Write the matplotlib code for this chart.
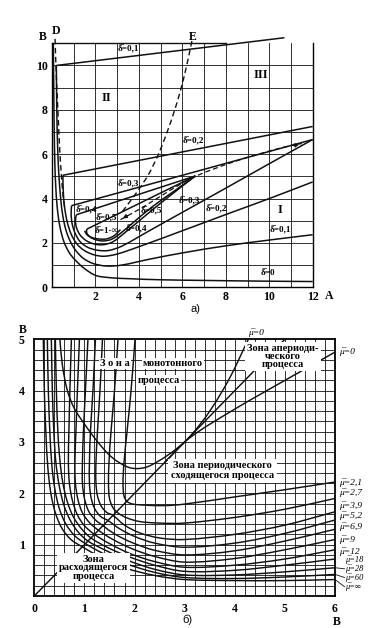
import numpy as np
import matplotlib
matplotlib.use("Agg")
import matplotlib.pyplot as plt
from matplotlib.path import Path
from matplotlib.patches import PathPatch

plt.rcParams["font.family"] = ["Liberation Serif", "DejaVu Serif"]
plt.rcParams["mathtext.fontset"] = "stix"

INK = "#111111"

# ---------------- a) curves of equal delta in the A-B plane ----------------
delta_0 = [(0.06, 11.0), (0.08, 9.0), (0.1, 7.2), (0.13, 5.6), (0.17, 4.6), (0.24, 3.6),
           (0.36, 2.75), (0.55, 2.05), (0.8, 1.55), (1.05, 1.25), (1.45, 0.88), (2.0, 0.54),
           (2.6, 0.44), (3.5, 0.39), (5.0, 0.34), (7.0, 0.31), (9.5, 0.28), (12.0, 0.26)]
delta_01 = [(0.2, 10.0), (0.22, 8.0), (0.26, 6.3), (0.32, 5.0), (0.4, 4.0), (0.5, 3.2),
            (0.65, 2.55), (0.85, 2.05), (1.1, 1.65), (1.45, 1.3), (1.9, 1.07), (2.5, 0.96),
            (3.2, 1.0), (4.5, 1.27), (6.0, 1.55), (8.0, 1.87), (10.0, 2.13), (12.0, 2.37)]
delta_01_top = [(0.2, 10.0), (10.7, 11.25)]
delta_02 = [(0.5, 5.05), (0.52, 4.3), (0.58, 3.6), (0.7, 2.95), (0.88, 2.4), (1.15, 1.95),
            (1.5, 1.65), (1.95, 1.46), (2.4, 1.4), (3.0, 1.5), (4.0, 1.83), (6.0, 2.55),
            (8.0, 3.28), (10.0, 4.0), (12.0, 4.75)]
delta_02_top = [(0.5, 5.05), (12.0, 7.25)]
delta_03 = [(0.9, 3.68), (0.88, 3.3), (0.93, 2.85), (1.07, 2.42), (1.3, 2.05), (1.65, 1.8),
            (2.1, 1.67), (2.6, 1.66), (3.2, 1.85), (4.5, 2.56), (6.0, 3.38), (8.0, 4.47),
            (10.0, 5.57), (12.0, 6.66)]
delta_03_top = [(0.9, 3.68), (12.0, 6.66)]
delta_04 = [(1.12, 3.27), (1.08, 3.0), (1.13, 2.68), (1.3, 2.35), (1.58, 2.1), (1.95, 1.95),
            (2.35, 1.92), (2.8, 2.05), (3.4, 2.5), (4.2, 3.15), (5.2, 3.95), (6.6, 5.02)]
delta_04_top = [(1.12, 3.27), (6.6, 5.02)]
delta_05 = [(1.6, 2.62), (1.6, 2.45), (1.75, 2.27), (2.0, 2.15), (2.35, 2.09), (2.75, 2.17),
            (3.2, 2.47), (3.8, 2.97), (4.6, 3.62), (5.6, 4.32), (6.6, 5.02)]
delta_05_top = [(1.6, 2.62), (6.6, 5.02)]
delta_inf = [(1.5, 2.55), (1.62, 2.36), (1.85, 2.24), (2.15, 2.18), (2.5, 2.18), (2.85, 2.32),
             (3.15, 2.6)]
line_d = [(0.14, 11.2), (0.2, 9.5), (0.27, 8.0), (0.35, 6.3), (0.42, 5.2), (0.5, 4.2),
          (0.58, 3.6)]
line_e = [(6.44, 11.1), (6.2, 10.0), (5.95, 9.0), (5.65, 8.0), (5.3, 7.0), (4.9, 6.0),
          (4.45, 5.1), (3.95, 4.35), (3.5, 3.75), (3.15, 3.3)]
locus = [(3.15, 3.05), (4.2, 3.62), (5.4, 4.35), (6.6, 5.0), (8.5, 5.7), (10.6, 6.3),
         (11.5, 6.48)]

# ---------------- b) curves of equal mu in the A-B plane ----------------
mu_2_1 = [(2.01, 5), (1.93, 4), (1.85, 3.2), (1.79, 2.6), (1.77, 2.2), (1.79, 1.95),
          (1.85, 1.84), (1.97, 1.79), (2.2, 1.77), (2.6, 1.76), (3, 1.79), (4, 1.93),
          (5, 2.07), (6, 2.22)]
mu_2_7 = [(1.67, 5), (1.6, 4), (1.53, 3.2), (1.49, 2.6), (1.48, 2.2), (1.5, 1.9),
          (1.57, 1.72), (1.68, 1.61), (1.85, 1.52), (2.1, 1.45), (2.5, 1.42), (3, 1.42),
          (4, 1.53), (5, 1.69), (6, 1.9)]
mu_3_9 = [(1.36, 5), (1.31, 4), (1.26, 3.2), (1.23, 2.6), (1.23, 2.2), (1.26, 1.95),
          (1.33, 1.76), (1.44, 1.63), (1.57, 1.57), (1.8, 1.38), (2.1, 1.23), (2.5, 1.13),
          (3, 1.1), (4, 1.2), (5, 1.38), (6, 1.64)]
mu_5_2 = [(1.22, 5), (1.17, 4), (1.12, 3.2), (1.1, 2.6), (1.1, 2.2), (1.13, 1.93),
          (1.2, 1.71), (1.32, 1.55), (1.47, 1.47), (1.7, 1.31), (2.0, 1.16), (2.4, 1.03),
          (3, 0.95), (4, 1.03), (5, 1.22), (6, 1.48)]
mu_6_9 = [(1.07, 5), (1.02, 4), (0.98, 3.2), (0.96, 2.6), (0.96, 2.2), (1.0, 1.9),
          (1.08, 1.66), (1.21, 1.49), (1.37, 1.37), (1.6, 1.21), (1.95, 1.04), (2.4, 0.89),
          (3, 0.8), (4, 0.88), (5, 1.07), (6, 1.3)]
mu_9 = [(0.9, 5), (0.86, 4), (0.83, 3.2), (0.81, 2.6), (0.82, 2.2), (0.87, 1.88),
        (0.96, 1.62), (1.1, 1.43), (1.28, 1.28), (1.55, 1.11), (1.95, 0.92), (2.4, 0.77),
        (3, 0.66), (4, 0.73), (5, 0.9), (6, 1.1)]
mu_12 = [(0.74, 5), (0.71, 4), (0.69, 3.2), (0.68, 2.6), (0.7, 2.2), (0.76, 1.86),
         (0.86, 1.58), (1.0, 1.37), (1.2, 1.2), (1.5, 1.02), (1.9, 0.83), (2.4, 0.67),
         (3, 0.56), (4, 0.6), (5, 0.72), (6, 0.9)]
mu_18 = [(0.42, 5), (0.44, 4), (0.47, 3.2), (0.51, 2.65), (0.57, 2.2), (0.66, 1.83),
         (0.78, 1.54), (0.94, 1.31), (1.13, 1.13), (1.45, 0.95), (1.9, 0.76), (2.4, 0.6),
         (3, 0.48), (4, 0.5), (5, 0.6), (6, 0.72)]
mu_28 = [(0.34, 5), (0.36, 4), (0.39, 3.2), (0.43, 2.6), (0.5, 2.13), (0.59, 1.77),
         (0.72, 1.47), (0.88, 1.24), (1.07, 1.07), (1.4, 0.9), (1.85, 0.7), (2.4, 0.52),
         (3, 0.41), (4, 0.41), (5, 0.47), (6, 0.55)]
mu_60 = [(0.26, 5), (0.28, 4), (0.31, 3.2), (0.35, 2.55), (0.41, 2.08), (0.5, 1.7),
         (0.63, 1.4), (0.81, 1.17), (1.02, 1.02), (1.35, 0.84), (1.8, 0.64), (2.4, 0.46),
         (3, 0.36), (4, 0.34), (5, 0.37), (6, 0.42)]
mu_inf = [(0.18, 5), (0.2, 4), (0.23, 3.2), (0.27, 2.5), (0.33, 2.0), (0.42, 1.62),
          (0.55, 1.32), (0.73, 1.1), (0.97, 0.95), (1.3, 0.77), (1.8, 0.55), (2.4, 0.4),
          (3, 0.32), (4, 0.3), (5, 0.3), (6, 0.32)]
mu_curves = [mu_2_1, mu_2_7, mu_3_9, mu_5_2, mu_6_9, mu_9, mu_12, mu_18, mu_28, mu_60, mu_inf]
mu_names = ["2,1", "2,7", "3,9", "5,2", "6,9", "9", "12", "18", "28", "60", "∞"]
mu_label_y = [2.21, 2.01, 1.76, 1.57, 1.35, 1.09, 0.87, 0.70, 0.53, 0.36, 0.18]

mu0_upper = [(0.51, 5.0), (0.56, 4.5), (0.66, 4.0), (0.8, 3.65), (1.0, 3.35), (1.25, 3.02),
             (1.55, 2.7), (1.9, 2.5), (2.2, 2.5), (2.5, 2.64), (2.8, 2.84), (3.1, 3.1),
             (3.5, 3.6), (3.9, 4.25), (4.27, 5.0)]
mu0_lower = [(2.6, 2.6), (3.1, 3.08), (4.0, 3.64), (5.0, 4.2), (6.0, 4.75)]
diagonal = [(0.0, 0.0), (5.0, 5.0)]


def smooth(ax, pts, lw=1.1, ls="-", clip=True):
    # draws a curve through the read points as cubic Bezier pieces
    p = np.asarray(pts, float)
    d = np.hypot(*np.diff(p, axis=0).T)
    m = np.zeros_like(p)
    m[0] = (p[1] - p[0]) / d[0]
    m[-1] = (p[-1] - p[-2]) / d[-1]
    for i in range(1, len(p) - 1):
        m[i] = (p[i + 1] - p[i - 1]) / (d[i - 1] + d[i])
    verts = [p[0]]
    codes = [Path.MOVETO]
    for i in range(len(p) - 1):
        verts += [p[i] + m[i] * d[i] / 3, p[i + 1] - m[i + 1] * d[i] / 3, p[i + 1]]
        codes += [Path.CURVE4] * 3
    patch = PathPatch(Path(verts, codes), fill=False, edgecolor=INK, lw=lw,
                      linestyle=ls, zorder=3)
    patch.set_clip_on(clip)
    ax.add_patch(patch)


def straight(ax, pts, lw=1.1, clip=True):
    xs, ys = zip(*pts)
    ax.plot(xs, ys, color=INK, lw=lw, zorder=3, clip_on=clip, solid_capstyle="butt")


fig = plt.figure(figsize=(3.89, 6.28), dpi=100)

# ---------------- panel a ----------------
ax1 = fig.add_axes([0.1337, 0.5425, 0.6701, 0.3886])
ax1.set_xlim(0, 12)
ax1.set_ylim(0, 11)
for v in range(1, 12):
    ax1.axvline(v, color=INK, lw=0.6, zorder=1)
for v in range(1, 11):
    ax1.axhline(v, color=INK, lw=0.6, zorder=1)
for s in ["left", "bottom", "right"]:
    ax1.spines[s].set_linewidth(1.0)
ax1.spines["top"].set_visible(False)
ax1.plot([0, 8], [11, 11], color=INK, lw=1.0, clip_on=False)

for curve in [delta_0, delta_01, delta_02, delta_03, delta_04, delta_05, delta_inf]:
    smooth(ax1, curve)
straight(ax1, delta_01_top, clip=False)
for seg in [delta_02_top, delta_03_top, delta_04_top, delta_05_top]:
    straight(ax1, seg)
smooth(ax1, line_d, lw=1.0, ls=(0, (4, 2.5)), clip=False)
smooth(ax1, line_e, lw=1.0, ls=(0, (4, 2.5)), clip=False)
smooth(ax1, locus, lw=0.9, ls=(0, (4, 2.5)))
ax1.annotate("", xy=locus[0], xytext=(3.6, 3.3),
             arrowprops=dict(arrowstyle="-|>", color=INK, lw=0.8, mutation_scale=6))
ax1.annotate("", xy=locus[-1], xytext=(11.0, 6.35),
             arrowprops=dict(arrowstyle="-|>", color=INK, lw=0.8, mutation_scale=6))

# delta with a combining overline, plain text keeps the labels compact
dl = "δ\u0305"
delta_texts = [
    (dl + "=0,1", 3.5, 10.75), (dl + "=0,2", 6.5, 6.57), (dl + "=0,3", 3.5, 4.65),
    (dl + "=0,4", 1.6, 3.48), (dl + "=0,5", 2.5, 3.1), (dl + "=1-∞", 2.5, 2.55),
    (dl + "=0,5", 4.55, 3.44), (dl + "=0,4", 3.9, 2.6), (dl + "=0,3", 6.3, 3.9),
    (dl + "=0,2", 7.55, 3.5), (dl + "=0,1", 10.5, 2.57), (dl + "=0", 9.95, 0.64),
]
for txt, x, y in delta_texts:
    ax1.text(x, y, txt, fontsize=6.6, fontweight="bold", ha="center", va="center",
             zorder=5)
ax1.text(2.5, 8.55, "II", fontsize=9, fontweight="bold", ha="center", va="center")
ax1.text(9.6, 9.55, "III", fontsize=9, fontweight="bold", ha="center", va="center")
ax1.text(10.5, 3.5, "I", fontsize=9, fontweight="bold", ha="center", va="center")

ax1.set_xticks([2, 4, 6, 8, 10, 12])
ax1.set_xticklabels(["2", "4", "6", "8", "10", "12"], fontweight="bold", fontsize=8.5)
ax1.set_yticks([0, 2, 4, 6, 8, 10])
ax1.set_yticklabels(["0", "2", "4", "6", "8", "10"], fontweight="bold", fontsize=8.5)
ax1.tick_params(length=0, pad=3)
ax1.text(12.75, -0.4, "A", fontsize=8.5, fontweight="bold", ha="center", va="center",
         clip_on=False)
ax1.text(-0.42, 11.3, "B", fontsize=8.5, fontweight="bold", ha="center", va="center")
ax1.text(0.2, 11.55, "D", fontsize=8.5, fontweight="bold", ha="center", va="center")
ax1.text(6.5, 11.3, "E", fontsize=8.5, fontweight="bold", ha="center", va="center")
ax1.text(6.6, -1.0, "а)", fontsize=8, family="Liberation Sans", ha="center",
         va="center")

# ---------------- panel b ----------------
ax2 = fig.add_axes([0.0882, 0.051, 0.773, 0.4087])
ax2.set_xlim(0, 6)
ax2.set_ylim(0, 5)
for v in np.arange(0.2, 6.0, 0.2):
    ax2.axvline(v, color=INK, lw=0.6, zorder=1)
for v in np.arange(0.2, 5.0, 0.2):
    ax2.axhline(v, color=INK, lw=0.6, zorder=1)
for s in ax2.spines.values():
    s.set_linewidth(1.3)

for curve in mu_curves:
    smooth(ax2, curve, lw=1.05)
smooth(ax2, mu0_upper, lw=1.05)
smooth(ax2, mu0_lower, lw=1.05)
straight(ax2, diagonal, lw=1.05)

# mu with a combining overline, kept as plain text so the labels stay compact
mb = "μ\u0305"
for i, (name, y) in enumerate(zip(mu_names, mu_label_y)):
    x = 6.2 if i >= 7 else 6.08
    size = 6.0 if i >= 7 else 6.8
    ax2.text(x, y, mb + "=" + name, clip_on=False, fontsize=size, fontstyle="italic",
             ha="left", va="center")
for i in [8, 9, 10]:
    ax2.plot([6.0, 6.19], [mu_curves[i][-1][1], mu_label_y[i]], color=INK, lw=0.6,
             clip_on=False)
mtxt = dict(fontsize=6.8, fontstyle="italic", ha="left", va="center")
ax2.text(6.08, 4.76, mb + "=0", clip_on=False, **mtxt)
ax2.text(4.27, 5.13, mb + "=0", clip_on=False, **mtxt)

box = dict(facecolor="white", edgecolor="none", pad=1.0)
ztxt = dict(fontsize=7.5, fontweight="bold", ha="center", va="center", zorder=6)
ax2.text(1.61, 4.53, "З о н а", bbox=box, **ztxt)
ax2.text(2.77, 4.53, "монотонного", bbox=box, **ztxt)
ax2.text(2.48, 4.2, "процесса", bbox=box, **ztxt)
ax2.text(4.96, 4.66, "Зона апериоди-\nческого\nпроцесса", linespacing=0.85,
         bbox=dict(facecolor="white", edgecolor="none", pad=1.5), **ztxt)
ax2.text(3.75, 2.44, "Зона периодического\nсходящегося процесса", linespacing=1.1,
         bbox=dict(facecolor="white", edgecolor="none", pad=2.0), **ztxt)
ax2.text(1.18, 0.55, "Зона\nрасходящегося\nпроцесса", linespacing=0.95,
         bbox=dict(facecolor="white", edgecolor="none", pad=1.2), **ztxt)

ax2.set_xticks(range(0, 7))
ax2.set_xticklabels([str(v) for v in range(0, 7)], fontweight="bold", fontsize=8.5)
ax2.set_yticks(range(1, 6))
ax2.set_yticklabels([str(v) for v in range(1, 6)], fontweight="bold", fontsize=8.5)
ax2.tick_params(axis="x", length=0, pad=5)
ax2.tick_params(axis="y", length=0, pad=7)
ax2.text(-0.23, 5.18, "B", fontsize=8.5, fontweight="bold", ha="center", va="center",
         clip_on=False)
ax2.text(6.04, -0.5, "B", fontsize=8.5, fontweight="bold", ha="center", va="center",
         clip_on=False)
ax2.text(3.06, -0.47, "б)", fontsize=8, family="Liberation Sans", ha="center",
         va="center", clip_on=False)

fig.savefig("out.png", dpi=100, facecolor="white")
